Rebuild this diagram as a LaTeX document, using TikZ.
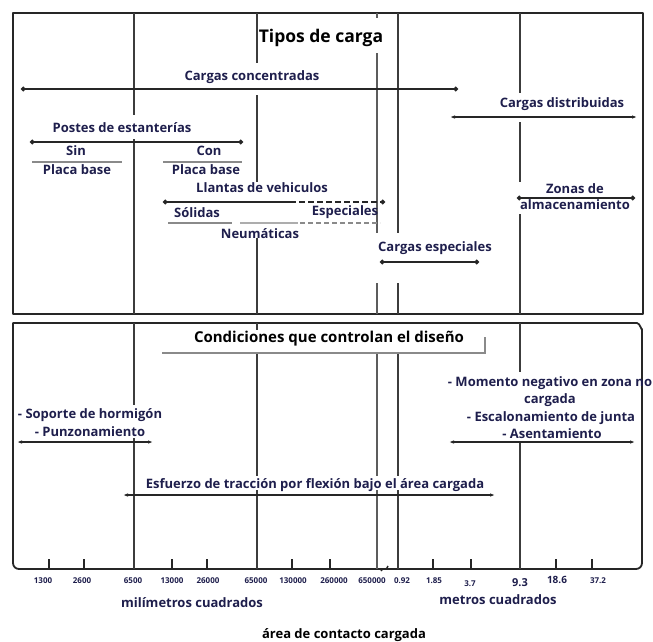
\documentclass[tikz,border=0pt]{standalone}
\usepackage{fontspec}
\setmainfont{Open Sans}
\usetikzlibrary{arrows.meta}
\definecolor{ink}{HTML}{1E1E4C}
\definecolor{rule}{HTML}{262626}
\definecolor{smudge}{HTML}{8A8A8A}
\begin{document}
\begin{tikzpicture}[x=1pt,y=-1pt,
  frame/.style={line width=1.8pt, draw=rule, line join=round},
  gridline/.style={line width=1.1pt, draw=rule!90},
  lbl/.style={font=\bfseries\fontsize{13}{15}\selectfont, text=ink, inner sep=0pt, align=center},
  ttl/.style={font=\bfseries\fontsize{17.5}{20}\selectfont, text=black, inner sep=0pt},
  ttlb/.style={font=\bfseries\fontsize{15}{18}\selectfont, text=black, inner sep=0pt},
  tck/.style={font=\bfseries\fontsize{8}{10}\selectfont, text=ink, inner sep=0pt},
  unit/.style={font=\bfseries\fontsize{13}{15}\selectfont, text=ink, inner sep=0pt},
  dotrange/.style={line width=1.3pt, draw=rule, {Circle[length=4.5pt]}-{Circle[length=4.5pt]}},
  arrrange/.style={line width=1.3pt, draw=rule, {Latex[length=5pt,width=3.5pt]}-{Latex[length=5pt,width=3.5pt]}},
  under/.style={line width=2pt, draw=smudge},
  tickmark/.style={line width=1.1pt, draw=rule}]
\useasboundingbox (0,0) rectangle (653,641);

% ---------- upper panel: frame ----------
\draw[frame] (13,314) -- (13,13) -- (643,13) -- (643,314) -- cycle;

% ---------- lower panel: frame and area axis ----------
\draw[frame] (642,329) -- (642,563) to[out=-90,in=0] (636,569) -- (19,569) to[out=180,in=-90] (13,563) -- (13,323) -- (637,323) to[out=0,in=-90] (642,329) -- cycle;

% reference lines of the upper panel
\draw[gridline] (134,13) -- (134,115) (134,139) -- (134,314);
\draw[gridline] (257,13) -- (257,63) (257,95) -- (257,182) (257,238) -- (257,314);
\draw[gridline, draw=rule!75] (377,13) -- (377,18) (377,53) -- (377,233) (377,283) -- (377,314);
\draw[gridline] (398,13) -- (398,233) (398,283) -- (398,314);
\draw[gridline] (520,13) -- (520,93) (520,122) -- (520,182) (520,214) -- (520,314);

% reference lines of the lower panel
\draw[gridline] (134,323) -- (134,405) (134,438) -- (134,569);
\draw[gridline] (257,323) -- (257,330) (257,353) -- (257,476) (257,490) -- (257,569);
\draw[gridline, draw=rule!75] (377,353) -- (377,476) (377,490) -- (377,569);
\draw[gridline] (398,353) -- (398,476) (398,490) -- (398,569);
\draw[gridline] (520,323) -- (520,372) (520,443) -- (520,569);

% scale break on the axis
\draw[line width=1.4pt, draw=rule] (381,571) .. controls (383,566) and (385,573) .. (388,566);

% ---------- titles ----------
\node[ttl] (tipos) at (321,38) {Tipos de carga};
\node[ttlb] (cond) at (329,339) {Condiciones que controlan el diseño};
\draw[under, line width=2.2pt] (162,353) -- (485,353) -- (485,337);

% ---------- load types ----------
\coordinate (cc1) at (21,89);  \coordinate (cc2) at (458,89);
\draw[dotrange] (cc1) -- (cc2);
\node[lbl] (conc) at (252,77) {Cargas concentradas};

\coordinate (cd1) at (450,117); \coordinate (cd2) at (637,117);
\draw[arrrange] (cd1) -- (cd2);
\node[lbl] (dist) at (562,104) {Cargas distribuidas};

\coordinate (pe1) at (30,142); \coordinate (pe2) at (243,142);
\draw[dotrange] (pe1) -- (pe2);
\node[lbl] (postes) at (122,128) {Postes de estanterías};
\node[lbl] (sin) at (76,151) {Sin};
\node[lbl] (con) at (209,151) {Con};
\draw[under] (32,162) -- (122,162);
\draw[under] (163,162) -- (242,162);
\node[lbl] (pb1) at (77,170) {Placa base};
\node[lbl] (pb2) at (206,170) {Placa base};

\coordinate (ll1) at (163,202); \coordinate (llm) at (290,202); \coordinate (ll2) at (385,202);
\draw[line width=1.3pt, draw=rule, {Circle[length=4.5pt]}-] (ll1) -- (llm);
\draw[line width=1.3pt, draw=rule, dash pattern=on 6pt off 3pt, -{Circle[length=4.5pt]}] (llm) -- (ll2);
\node[lbl] (llantas) at (262,188) {Llantas de vehiculos};
\node[lbl] (solidas) at (197,213) {Sólidas};
\node[lbl] (espec) at (345,212) {Especiales};
\draw[under] (168,223) -- (232,223);
\draw[under, draw=smudge!70] (240,223) -- (298,223);
\draw[under, dash pattern=on 5pt off 3pt] (300,223) -- (380,223);
\node[lbl] (neum) at (260,234) {Neumáticas};

\coordinate (ce1) at (380,262); \coordinate (ce2) at (479,262);
\draw[dotrange] (ce1) -- (ce2);
\node[lbl] (cesp) at (435,248) {Cargas especiales};

\coordinate (za1) at (517,198); \coordinate (za2) at (635,198);
\draw[dotrange] (za1) -- (za2);
\node[lbl] (zonas) at (575,189) {Zonas de};
\node[lbl] (almac) at (575,205) {almacenamiento};

% ---------- governing conditions ----------
\coordinate (sp1) at (17,442); \coordinate (sp2) at (153,442);
\draw[arrrange] (sp1) -- (sp2);
\node[lbl] (soporte) at (90,415) {- Soporte de hormigón};
\node[lbl] (punz) at (90,432) {- Punzonamiento};

\coordinate (mn1) at (449,442); \coordinate (mn2) at (635,442);
\draw[arrrange] (mn1) -- (mn2);
\node[lbl] (momento) at (550,383) {- Momento negativo en zona no};
\node[lbl] (cargada) at (550,400) {cargada};
\node[lbl] (escal) at (551,418) {- Escalonamiento de junta};
\node[lbl] (asent) at (552,434) {- Asentamiento};

\coordinate (ef1) at (123,495); \coordinate (ef2) at (495,495);
\draw[arrrange] (ef1) -- (ef2);
\node[lbl] (esf) at (315,485) {Esfuerzo de tracción por flexión bajo el área cargada};

% ---------- axis ticks and values ----------
\foreach \tx in {49,84,172,207,292,330,433,471,556,592}
  \draw[tickmark] (\tx,569) -- (\tx,559);
\node[tck] (v1) at (43,581) {1300};
\node[tck] (v2) at (82,581) {2600};
\node[tck] (v3) at (133,581) {6500};
\node[tck] (v4) at (172,581) {13000};
\node[tck] (v5) at (208,581) {26000};
\node[tck] (v6) at (256,581) {65000};
\node[tck] (v7) at (293,581) {130000};
\node[tck] (v8) at (334,581) {260000};
\node[tck] (v9) at (372,581) {650000};
\node[tck] (v10) at (402,581) {0.92};
\node[tck] (v11) at (434,581) {1.85};
\node[tck] (v12) at (470,584) {3.7};
\node[tck, font=\bfseries\fontsize{11}{12}\selectfont] (v13) at (520,583) {9.3};
\node[tck, font=\bfseries\fontsize{10}{12}\selectfont] (v14) at (557,580) {18.6};
\node[tck] (v15) at (598,581) {37.2};

\node[unit] (mm) at (192,603) {milímetros cuadrados};
\node[unit] (mq) at (498,600) {metros cuadrados};
\node[unit, text=black] (area) at (344,635) {área de contacto cargada};
\end{tikzpicture}
\end{document}
